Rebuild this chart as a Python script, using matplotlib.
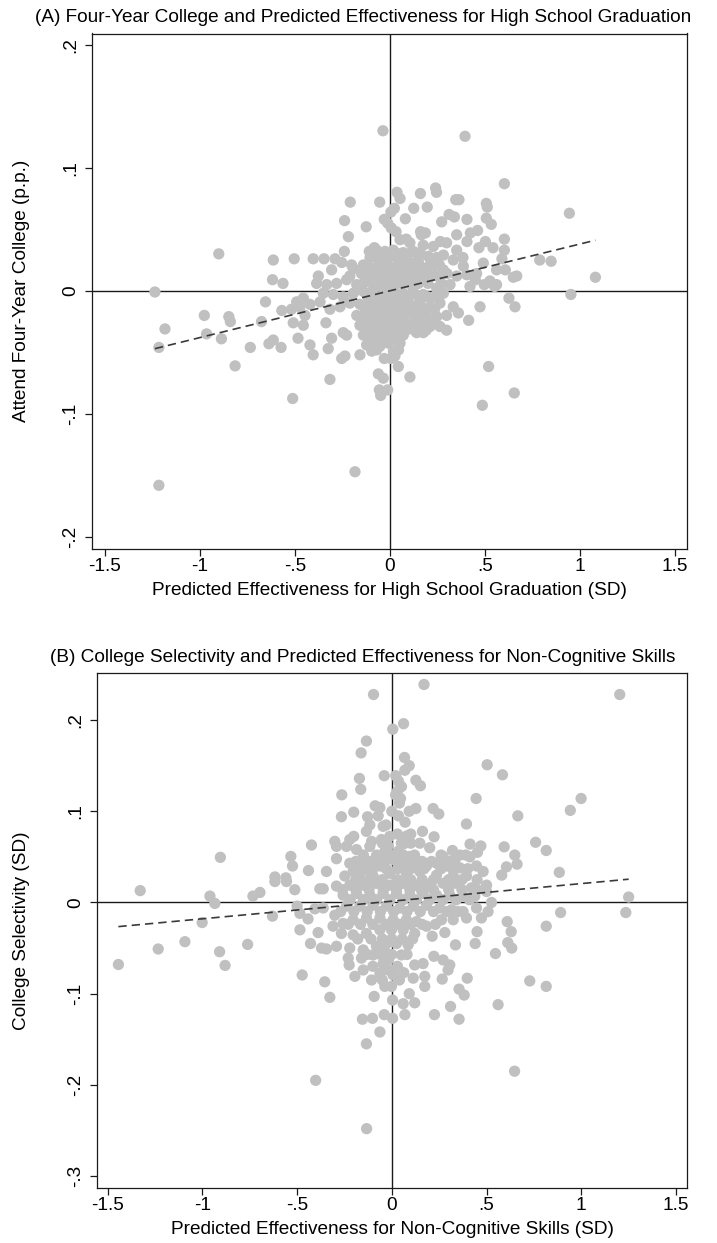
import numpy as np
import matplotlib
matplotlib.use("Agg")
import matplotlib.pyplot as plt

plt.rcParams["font.family"] = ["Liberation Sans", "DejaVu Sans"]

# Panel A: school-level predicted effectiveness for HS graduation (SD) vs. four-year college attendance
hs_points = [
    (-0.037, 0.130), (0.395, 0.1255), (0.944, 0.063), (1.081, 0.011), (0.952, -0.003),
    (0.848, 0.024), (0.788, 0.025),
    (-1.237, -0.001), (-1.184, -0.031), (-1.216, -0.046), (-1.216, -0.158), (-0.901, 0.030),
    (-0.977, -0.020), (-0.965, -0.035), (-0.848, -0.021), (-0.840, -0.025), (-0.887, -0.039),
    (-0.815, -0.061), (-0.735, -0.046), (-0.676, -0.025), (-0.655, -0.009), (-0.614, 0.025),
    (-0.618, 0.009), (-0.563, 0.006), (-0.637, -0.043), (-0.614, -0.040), (-0.573, -0.046),
    (-0.569, -0.016), (-0.184, -0.147),
    (0.602, 0.087), (0.240, 0.0835), (0.245, 0.080), (0.037, 0.080), (0.053, 0.075),
    (0.160, 0.079), (0.346, 0.074), (0.363, 0.074), (0.507, 0.071), (0.512, 0.068),
    (-0.209, 0.072), (-0.054, 0.072), (0.196, 0.068), (0.125, 0.067), (0.023, 0.067),
    (0.005, 0.064), (0.311, 0.062), (0.339, 0.060), (0.405, 0.058), (0.507, 0.059),
    (0.533, 0.054), (-0.239, 0.057), (-0.030, 0.058), (-0.012, 0.055), (0.081, 0.0585),
    (0.272, 0.056), (-0.125, 0.052), (0.007, 0.051), (0.032, 0.048), (0.161, 0.048),
    (0.186, 0.047), (0.165, 0.0455), (-0.219, 0.044), (0.086, 0.042), (0.351, 0.0455),
    (0.423, 0.047), (0.461, 0.049), (0.602, 0.042), (0.405, 0.040), (0.502, 0.040),
    (0.265, 0.040), (0.298, 0.039), (0.542, 0.035), (0.602, 0.033), (0.468, 0.035),
    (-0.240, 0.032), (0.175, 0.037), (-0.109, 0.032), (-0.082, 0.035), (-0.504, 0.026),
    (-0.404, 0.026), (-0.347, 0.026), (-0.289, 0.026), (-0.254, 0.023), (-0.307, 0.017),
    (-0.377, 0.012), (-0.193, 0.018), (-0.140, 0.021), (0.589, 0.026), (0.607, 0.017),
    (0.667, 0.012), (0.649, 0.011), (0.561, 0.017), (0.551, 0.0035), (0.561, 0.005),
    (0.496, 0.005), (0.449, 0.009), (0.384, 0.027), (0.333, 0.025), (0.281, 0.029),
    (-0.070, 0.033), (-0.026, 0.032), (0.018, 0.033), (0.070, 0.031), (0.123, 0.032),
    (-0.105, 0.027), (-0.061, 0.025), (-0.009, 0.027), (0.044, 0.025), (0.096, 0.024),
    (0.149, 0.025), (0.202, 0.028), (0.246, 0.027), (-0.088, 0.018), (-0.035, 0.017),
    (0.018, 0.018), (0.070, 0.017), (0.123, 0.017), (0.175, 0.018), (0.228, 0.020),
    (0.281, 0.017), (-0.123, 0.012), (-0.070, 0.010), (-0.018, 0.012), (0.035, 0.010),
    (0.088, 0.009), (0.140, 0.012), (0.193, 0.010), (0.246, 0.012), (0.351, 0.012),
    (0.404, 0.013), (0.456, 0.014), (0.316, 0.005), (0.246, 0.002), (-0.386, 0.006),
    (-0.333, 0.005), (-0.281, 0.006), (-0.228, 0.009), (-0.175, 0.005), (-0.351, -0.002),
    (-0.298, -0.003), (-0.246, -0.005), (-0.193, -0.002), (-0.140, -0.0005), (-0.088, 0.001),
    (-0.035, 0.002), (0.018, 0.001), (0.070, -0.002), (0.123, -0.0005), (0.175, -0.003),
    (0.228, -0.005), (0.281, -0.002), (-0.491, -0.009), (-0.474, -0.013), (-0.421, -0.011),
    (-0.518, -0.015), (-0.447, -0.020), (-0.509, -0.026), (-0.456, -0.028), (-0.337, -0.026),
    (-0.316, -0.015), (-0.263, -0.013), (-0.211, -0.010), (-0.158, -0.011), (-0.105, -0.010),
    (-0.053, -0.009), (0.000, -0.010), (0.053, -0.009), (0.105, -0.011), (0.158, -0.010),
    (0.211, -0.013), (0.263, -0.010), (0.333, -0.013), (0.360, -0.018), (0.298, -0.020),
    (0.414, -0.024), (0.474, -0.013), (0.626, -0.006), (0.658, -0.013), (-0.175, -0.020),
    (-0.123, -0.021), (-0.070, -0.018), (-0.018, -0.020), (0.035, -0.021), (0.088, -0.018),
    (0.140, -0.020), (0.193, -0.021), (0.246, -0.021), (-0.158, -0.028), (-0.105, -0.029),
    (-0.053, -0.026), (0.000, -0.029), (0.053, -0.028), (0.105, -0.029), (0.158, -0.028),
    (0.211, -0.029), (0.263, -0.029), (-0.140, -0.036), (-0.088, -0.037), (-0.035, -0.036),
    (0.018, -0.037), (0.070, -0.036), (0.140, -0.034), (0.175, -0.034), (-0.484, -0.0385),
    (-0.421, -0.044), (-0.404, -0.052), (-0.325, -0.047), (-0.307, -0.0385), (-0.254, -0.055),
    (-0.237, -0.053), (-0.228, -0.036), (-0.158, -0.052), (-0.096, -0.049), (-0.123, -0.044),
    (-0.053, -0.045), (-0.009, -0.0425), (0.018, -0.049), (0.026, -0.053), (0.044, -0.0615),
    (-0.035, -0.040), (-0.316, -0.072), (-0.061, -0.0675), (-0.035, -0.071), (-0.056, -0.0805),
    (-0.049, -0.085), (-0.012, -0.0805), (0.105, -0.070), (0.519, -0.0615), (0.654, -0.083),
    (0.486, -0.093), (-0.512, -0.0875), (-0.246, -0.034), (-0.456, -0.006), (-0.368, -0.009),
    (0.421, 0.0035), (0.526, 0.008), (0.386, 0.020), (0.491, 0.0225), (0.105, 0.039),
    (0.158, 0.031), (-0.211, 0.012), (-0.202, 0.021), (0.053, 0.0415), (0.228, 0.036),
    (0.351, 0.033), (0.298, -0.032), (0.053, -0.0425),
    # densely packed schools near the origin
    (-0.045, 0.030), (0.000, 0.030), (0.045, 0.030), (0.095, 0.030), (0.145, 0.030),
    (-0.120, 0.021), (-0.060, 0.021), (-0.010, 0.021), (0.045, 0.021), (0.100, 0.021),
    (0.155, 0.021), (0.210, 0.021), (0.260, 0.021),
    (-0.150, 0.014), (-0.100, 0.014), (-0.045, 0.014), (0.010, 0.014), (0.060, 0.014),
    (0.110, 0.014), (0.165, 0.014), (0.220, 0.014), (0.300, 0.014),
    (-0.140, 0.006), (-0.090, 0.006), (-0.040, 0.006), (0.010, 0.006), (0.060, 0.006),
    (0.100, 0.006), (0.150, 0.006), (0.200, 0.006), (0.270, 0.006),
    (-0.115, -0.005), (-0.060, -0.005), (-0.010, -0.005), (0.045, -0.005), (0.095, -0.005),
    (0.150, -0.005), (0.200, -0.005), (0.250, -0.005),
    (-0.130, -0.015), (-0.080, -0.015), (-0.030, -0.015), (0.025, -0.015), (0.075, -0.015),
    (0.125, -0.015), (0.180, -0.015), (0.235, -0.015),
    (-0.130, -0.024), (-0.080, -0.024), (-0.030, -0.024), (0.020, -0.024), (0.075, -0.024),
    (0.130, -0.024), (0.180, -0.024), (0.230, -0.024),
    (-0.120, -0.032), (-0.070, -0.032), (-0.020, -0.032), (0.030, -0.032), (0.085, -0.032),
    (0.130, -0.032), (0.190, -0.032),
    (-0.100, -0.041), (-0.060, -0.041), (-0.015, -0.041), (0.040, -0.041),
    (-0.070, -0.048), (0.045, -0.048), (-0.030, -0.055), (0.005, -0.055),
]
hs_x = [p[0] for p in hs_points]
hs_y = [p[1] for p in hs_points]
hs_fit = (0.038, 0.0)  # slope, intercept of linear fit

# Panel B: predicted effectiveness for non-cognitive skills (SD) vs. college selectivity (SD)
nc_points = [
    (0.170, 0.239), (-0.0965, 0.228), (1.203, 0.228), (0.999, 0.114), (0.942, 0.101),
    (0.884, 0.033), (1.250, 0.006), (1.235, -0.011), (0.891, -0.011), (0.815, -0.026),
    (0.815, -0.092), (0.815, 0.057), (0.759, 0.066), (0.728, -0.086), (0.648, -0.185),
    (-0.402, -0.195), (-0.133, -0.248), (-1.328, 0.013), (-1.443, -0.068), (-1.233, -0.051),
    (-1.092, -0.043), (-1.001, -0.022), (-0.960, 0.007), (-0.934, -0.001), (-0.905, 0.0495),
    (-0.909, -0.054), (-0.880, -0.069), (-0.761, -0.046), (-0.733, 0.007), (-0.696, 0.011),
    (0.062, 0.196), (0.005, 0.190), (-0.134, 0.177), (-0.162, 0.164), (0.067, 0.159),
    (0.092, 0.150), (0.069, 0.145), (-0.040, 0.139), (0.021, 0.139), (0.127, 0.134),
    (0.151, 0.128), (-0.171, 0.136), (-0.164, 0.124), (0.035, 0.133), (0.051, 0.127),
    (0.030, 0.122), (0.046, 0.114), (0.040, 0.109), (0.503, 0.151), (0.584, 0.140),
    (0.445, 0.114), (0.665, 0.095), (-0.264, 0.118), (-0.266, 0.094), (-0.201, 0.099),
    (-0.128, 0.094), (-0.088, 0.106), (-0.063, 0.104), (-0.072, 0.095), (0.000, 0.100),
    (0.092, 0.100), (0.127, 0.103), (0.218, 0.103), (0.248, 0.097), (0.394, 0.086),
    (0.162, 0.078), (0.223, 0.072), (0.413, 0.064), (0.470, 0.062), (0.593, 0.061),
    (0.649, 0.052), (0.661, 0.042), (0.605, 0.039), (0.580, 0.030), (0.452, 0.055),
    (0.390, 0.052), (0.320, 0.057), (-0.424, 0.063), (-0.533, 0.0505), (-0.524, 0.040),
    (-0.440, 0.035), (-0.345, 0.034), (-0.617, 0.028), (-0.559, 0.027), (-0.301, 0.067),
    (-0.292, 0.0615), (-0.222, 0.069), (-0.201, 0.0725), (-0.134, 0.078), (-0.116, 0.085),
    (-0.046, 0.0835), (-0.011, 0.0725), (-0.055, 0.069), (-0.107, 0.067), (-0.239, 0.0615),
    (-0.186, 0.058), (-0.292, 0.048), (-0.222, 0.043), (-0.151, 0.047), (-0.081, 0.0505),
    (-0.116, 0.0615), (-0.037, 0.056), (0.033, 0.056), (0.095, 0.0505), (0.148, 0.065),
    (0.200, 0.060), (0.271, 0.0505), (0.334, 0.047), (0.412, 0.050), (0.007, 0.047),
    (0.060, 0.043), (0.130, 0.043), (0.183, 0.040), (0.236, 0.043), (0.288, 0.040),
    (0.359, 0.038), (0.447, 0.040), (0.482, 0.034), (-0.204, 0.034), (-0.134, 0.036),
    (-0.063, 0.040), (-0.011, 0.032), (0.077, 0.032), (0.148, 0.034), (0.236, 0.030),
    (0.324, 0.029), (0.394, 0.029), (-0.248, 0.029), (-0.169, 0.027), (-0.099, 0.029),
    (-0.617, 0.023), (-0.556, 0.023), (-0.512, 0.014), (-0.380, 0.015), (-0.362, 0.015),
    (-0.292, 0.018), (-0.222, 0.019), (-0.151, 0.019), (-0.081, 0.021), (-0.011, 0.019),
    (0.060, 0.021), (0.130, 0.019), (0.183, 0.019), (0.271, 0.021), (0.341, 0.021),
    (0.420, 0.016), (0.500, 0.019), (0.500, 0.012), (-0.257, 0.008), (-0.186, 0.010),
    (-0.116, 0.008), (-0.046, 0.010), (0.025, 0.010), (0.095, 0.008), (0.165, 0.010),
    (0.236, 0.008), (0.306, 0.008), (0.376, 0.007), (0.438, 0.007), (0.526, 0.000),
    (-0.500, -0.004), (-0.406, -0.007), (-0.630, -0.015), (-0.485, -0.012), (-0.442, -0.018),
    (-0.362, -0.006), (-0.301, -0.014), (-0.239, -0.004), (-0.169, -0.004), (-0.099, -0.003),
    (-0.028, -0.004), (0.042, -0.006), (0.113, -0.004), (0.183, -0.003), (0.253, -0.006),
    (0.315, -0.008), (0.376, -0.010), (0.447, -0.006), (0.508, -0.010), (0.473, -0.017),
    (0.394, -0.017), (0.609, -0.021), (0.630, -0.032), (0.612, -0.044), (0.633, -0.050),
    (0.547, -0.056), (0.450, -0.032), (0.440, -0.045), (0.336, -0.0465), (0.280, -0.033),
    (0.213, -0.037), (0.183, -0.026), (0.262, -0.019), (0.324, -0.019), (-0.485, -0.030),
    (-0.389, -0.033), (-0.429, -0.045), (-0.371, -0.050), (-0.345, -0.051), (-0.310, -0.026),
    (-0.257, -0.023), (-0.204, -0.019), (-0.134, -0.017), (-0.063, -0.017), (0.007, -0.019),
    (0.077, -0.019), (0.130, -0.021), (-0.266, -0.034), (-0.204, -0.0355), (-0.134, -0.034),
    (-0.063, -0.030), (-0.002, -0.030), (0.060, -0.030), (0.121, -0.034), (-0.292, -0.048),
    (-0.222, -0.050), (-0.151, -0.052), (-0.081, -0.048), (-0.028, -0.045), (0.025, -0.045),
    (0.086, -0.0465), (-0.230, -0.061), (-0.225, -0.0685), (-0.160, -0.061), (-0.099, -0.0575),
    (-0.037, -0.054), (0.051, -0.0575), (0.121, -0.0685), (0.165, -0.067), (0.222, -0.059),
    (0.271, -0.063), (0.306, -0.0685), (0.297, -0.074), (-0.195, -0.081), (-0.151, -0.074),
    (-0.107, -0.085), (-0.063, -0.078), (-0.019, -0.074), (0.007, -0.0795), (-0.037, -0.092),
    (-0.002, -0.092), (0.063, -0.077), (0.113, -0.083), (0.174, -0.081), (0.174, -0.092),
    (0.266, -0.084), (0.398, -0.083), (0.355, -0.095), (0.382, -0.1015), (-0.473, -0.0795),
    (-0.354, -0.087), (-0.327, -0.104), (-0.093, -0.103), (0.004, -0.107), (0.060, -0.111),
    (0.121, -0.110), (0.092, -0.100), (0.310, -0.114), (0.561, -0.112), (-0.155, -0.128),
    (-0.102, -0.127), (-0.040, -0.123), (0.004, -0.127), (0.069, -0.123), (0.225, -0.123),
    (0.355, -0.128), (-0.063, -0.142), (-0.134, -0.155), (-0.019, -0.063), (-0.046, -0.067),
    # densely packed schools near the origin
    (0.020, 0.118), (0.035, 0.095), (-0.030, 0.085), (0.070, 0.088), (0.080, 0.073),
    (0.060, 0.064), (-0.020, 0.062), (-0.050, 0.065), (0.050, 0.065), (0.100, 0.065),
    (0.030, 0.075), (0.100, 0.075),
    (-0.150, 0.052), (-0.080, 0.052), (0.000, 0.052), (0.060, 0.052), (0.120, 0.052),
    (0.260, 0.052), (0.360, 0.052),
    (-0.190, 0.045), (-0.110, 0.045), (-0.040, 0.045), (0.030, 0.045), (0.100, 0.045),
    (0.160, 0.045), (0.210, 0.045), (0.310, 0.045),
    (-0.170, 0.037), (-0.100, 0.037), (-0.030, 0.037), (0.030, 0.037), (0.100, 0.037),
    (0.170, 0.037), (0.260, 0.037), (0.320, 0.037), (0.400, 0.037),
    (-0.190, 0.025), (-0.120, 0.025), (-0.050, 0.025), (0.030, 0.025), (0.100, 0.025),
    (0.160, 0.025), (0.220, 0.025), (0.300, 0.025), (0.370, 0.025), (0.450, 0.025),
    (-0.260, 0.014), (-0.190, 0.014), (-0.120, 0.014), (-0.045, 0.014), (0.025, 0.014),
    (0.095, 0.014), (0.155, 0.014), (0.220, 0.014), (0.300, 0.014), (0.370, 0.014),
    (0.450, 0.014),
    (-0.220, 0.003), (-0.150, 0.003), (-0.080, 0.003), (-0.010, 0.003), (0.060, 0.003),
    (0.130, 0.003), (0.200, 0.003), (0.270, 0.003), (0.340, 0.003), (0.410, 0.003),
    (-0.270, -0.010), (-0.200, -0.010), (-0.130, -0.010), (-0.060, -0.010), (0.010, -0.010),
    (0.080, -0.010), (0.150, -0.010), (0.220, -0.010), (0.290, -0.010), (0.350, -0.010),
    (-0.230, -0.024), (-0.165, -0.024), (-0.100, -0.024), (-0.030, -0.024), (0.040, -0.024),
    (0.100, -0.024), (0.160, -0.024), (0.230, -0.024),
    (-0.180, -0.040), (-0.110, -0.040), (-0.050, -0.040), (0.000, -0.040), (0.055, -0.040),
    (0.110, -0.040),
    (-0.130, -0.057), (-0.060, -0.057), (0.000, -0.057), (0.080, -0.057),
    (-0.100, -0.070), (-0.040, -0.070), (0.030, -0.070), (-0.050, -0.085), (0.040, -0.085),
]
nc_x = [p[0] for p in nc_points]
nc_y = [p[1] for p in nc_points]
nc_fit = (0.0193, 0.0014)  # slope, intercept of linear fit

x_ticks = [-1.5, -1, -0.5, 0, 0.5, 1, 1.5]
x_ticklabels = ["-1.5", "-1", "-.5", "0", ".5", "1", "1.5"]
a_yticks = [-0.2, -0.1, 0, 0.1, 0.2]
a_yticklabels = ["-.2", "-.1", "0", ".1", ".2"]
b_yticks = [-0.3, -0.2, -0.1, 0, 0.1, 0.2]
b_yticklabels = ["-.3", "-.2", "-.1", "0", ".1", ".2"]

W, H = 717, 1243
fig = plt.figure(figsize=(W / 100, H / 100), dpi=100)

FS = 13.7
DOT = "#c0c0c0"
LINE = "#1a1a1a"


def panel(rect, xs, ys, fit, xlim, ylim, yticks, yticklabels, xlabel, ylabel):
    left_px = rect[0] * W
    w_px, h_px = rect[2] * W, rect[3] * H
    ax = fig.add_axes(rect)
    ax.axhline(0, color=LINE, lw=1.0, zorder=1)
    ax.axvline(0, color=LINE, lw=1.0, zorder=1)
    ax.scatter(xs, ys, s=66, color=DOT, edgecolors="none", zorder=2)
    xr = np.array([min(xs), max(xs)])
    ax.plot(xr, fit[0] * xr + fit[1], color="#3a3a3a", lw=1.2,
            dashes=(5.0, 3.0), zorder=3)
    ax.set_xlim(*xlim)
    ax.set_ylim(*ylim)
    ax.set_xticks(x_ticks)
    ax.set_xticklabels(x_ticklabels, fontsize=FS)
    ax.set_yticks(yticks)
    ax.set_yticklabels(yticklabels, fontsize=FS, rotation=90, va="center")
    ax.tick_params(direction="out", length=5, width=0.9, color=LINE)
    ax.tick_params(axis="x", pad=2)
    ax.tick_params(axis="y", pad=4)
    for sp in ax.spines.values():
        sp.set_color(LINE)
        sp.set_linewidth(0.9)
    ax.set_xlabel(xlabel, fontsize=FS, va="center")
    ax.set_ylabel(ylabel, fontsize=FS, va="center")
    ax.xaxis.set_label_coords(0.5, -41.5 / h_px)
    ax.yaxis.set_label_coords(-(left_px - 22) / w_px, 0.5)
    return ax


ax_a = panel([92 / W, 1 - 548.7 / H, 595 / W, 515.2 / H], hs_x, hs_y, hs_fit,
             (-1.568, 1.563), (-0.2095, 0.209), a_yticks, a_yticklabels,
             "Predicted Effectiveness for High School Graduation (SD)",
             "Attend Four-Year College (p.p.)")
ax_b = panel([97 / W, 1 - 1187.5 / H, 590 / W, 514.5 / H], nc_x, nc_y, nc_fit,
             (-1.556, 1.558), (-0.3125, 0.2516), b_yticks, b_yticklabels,
             "Predicted Effectiveness for Non-Cognitive Skills (SD)",
             "College Selectivity (SD)")

fig.text(363 / W, 1 - 18 / H,
         "(A) Four-Year College and Predicted Effectiveness for High School Graduation",
         ha="center", va="center", fontsize=FS)
fig.text(363 / W, 1 - 658 / H,
         "(B) College Selectivity and Predicted Effectiveness for Non-Cognitive Skills",
         ha="center", va="center", fontsize=FS)

fig.savefig("out.png", dpi=100, facecolor="white")
